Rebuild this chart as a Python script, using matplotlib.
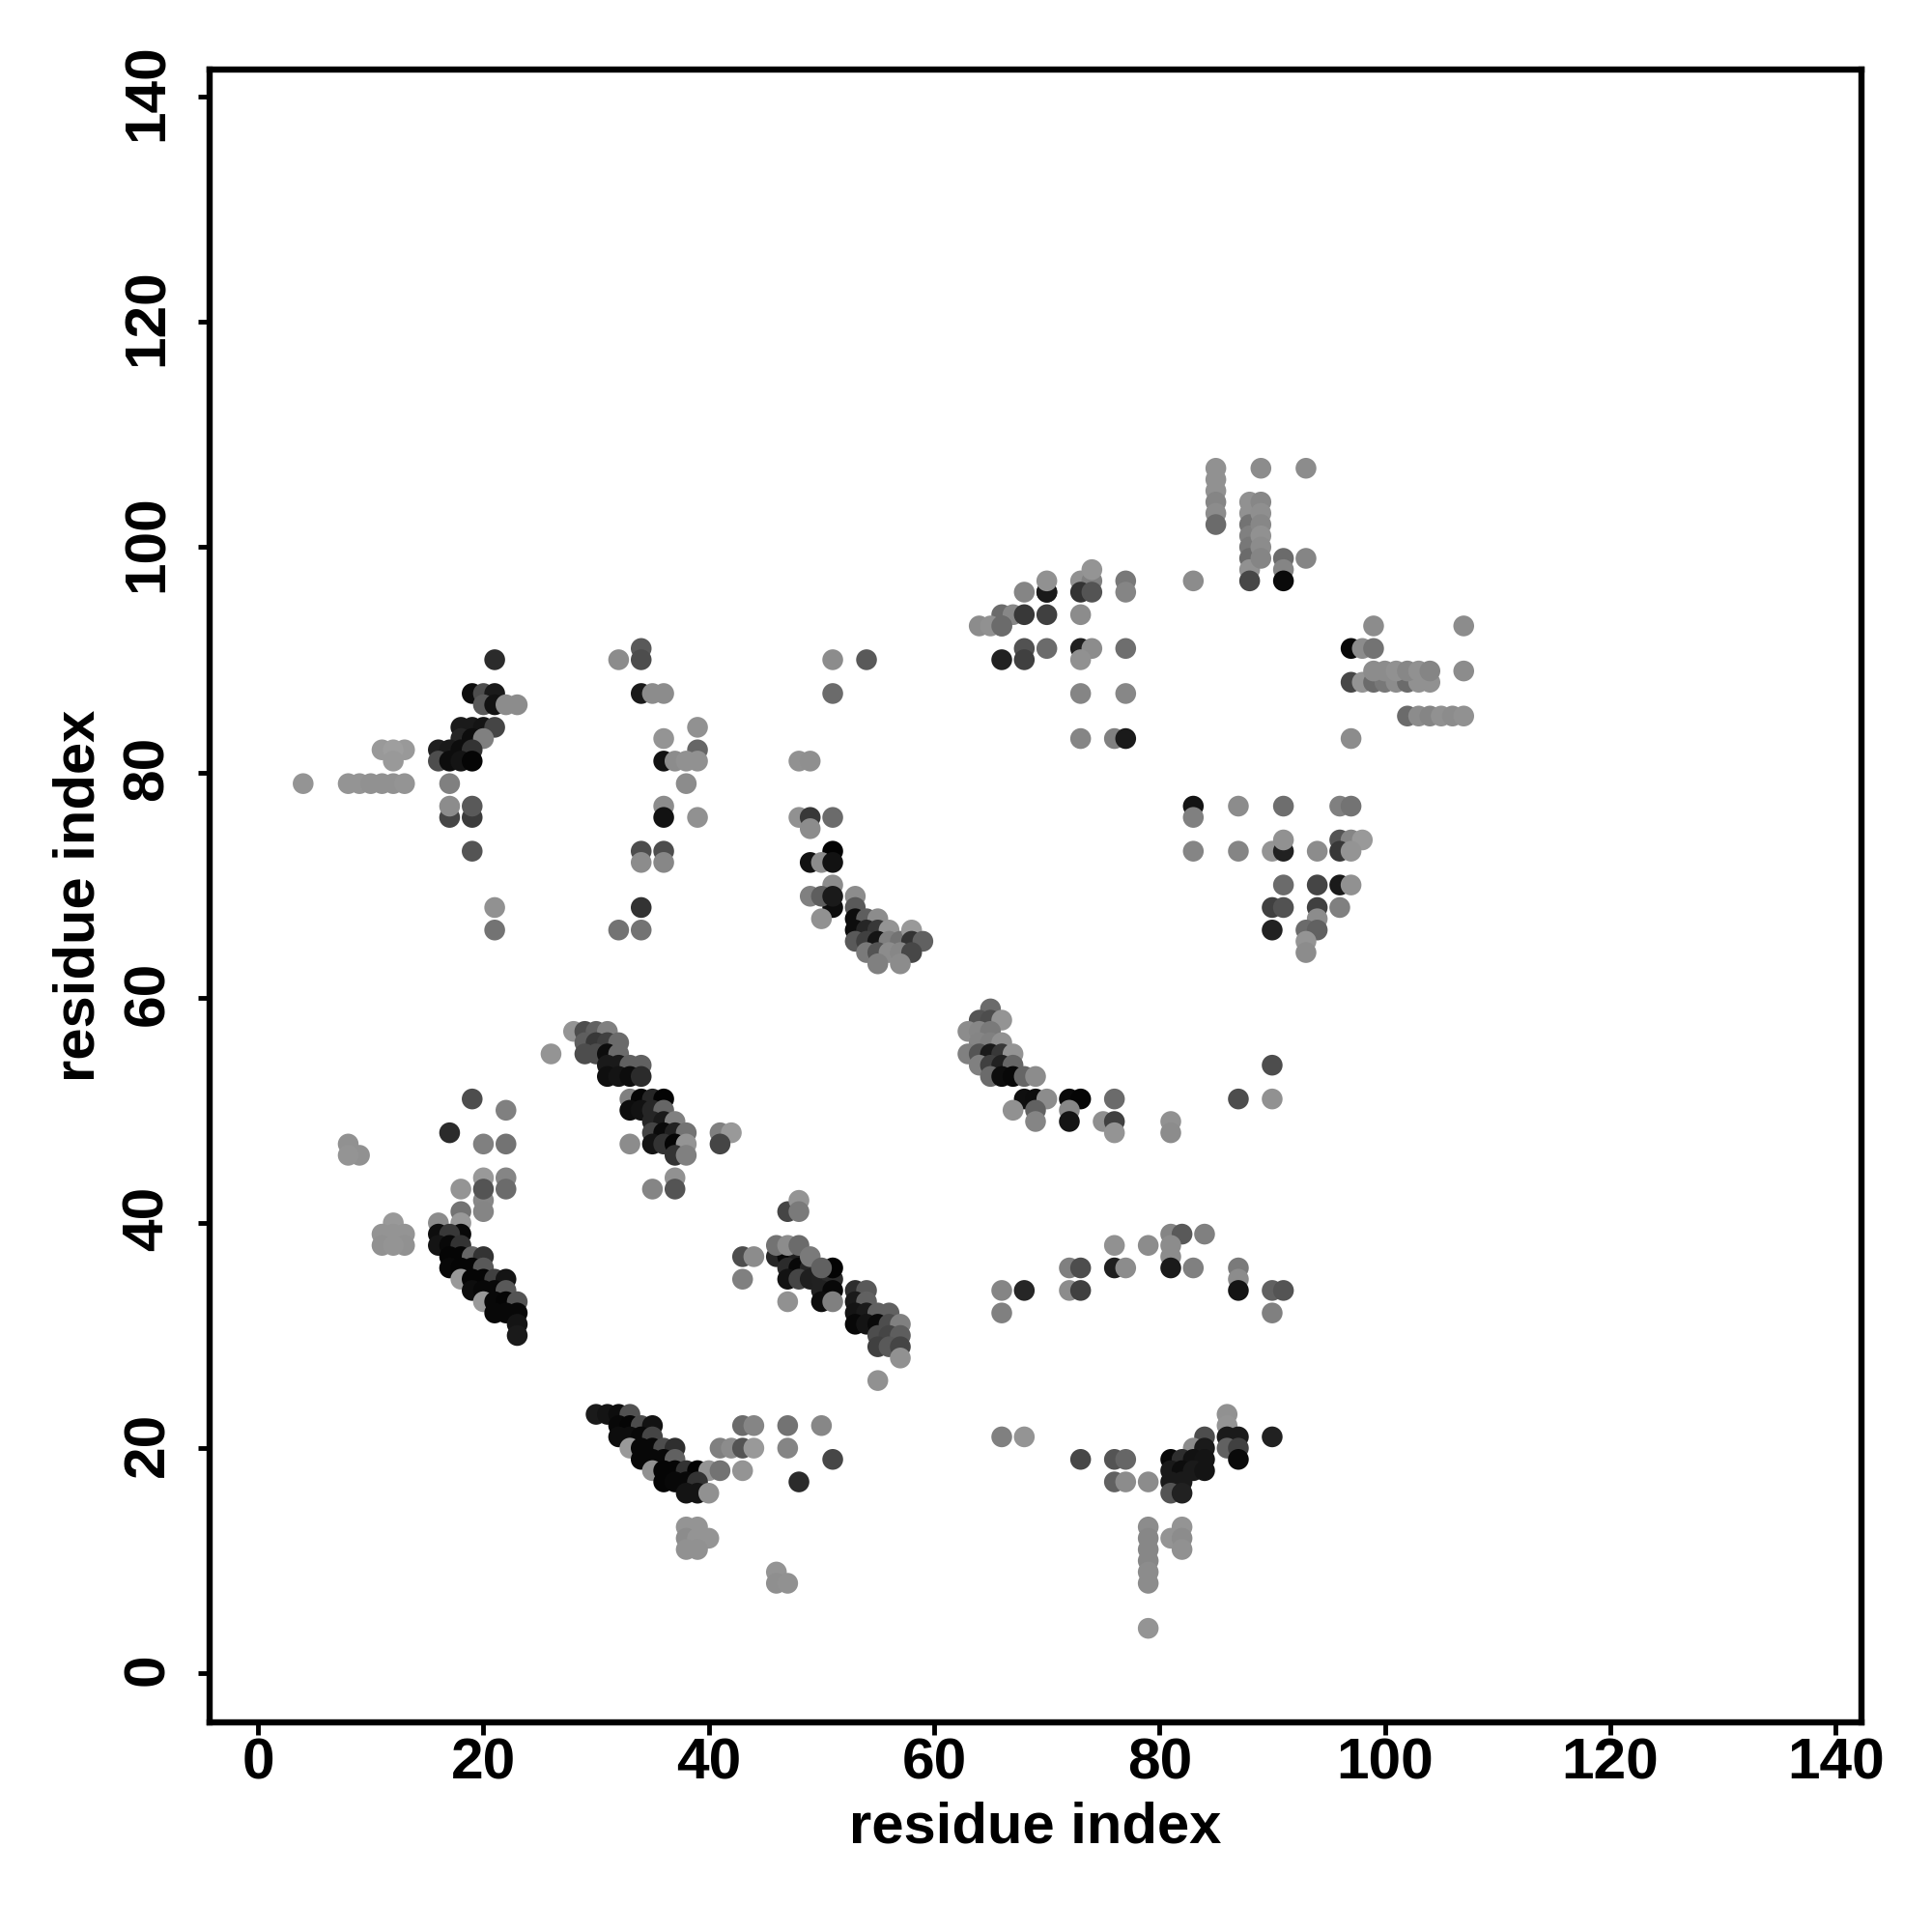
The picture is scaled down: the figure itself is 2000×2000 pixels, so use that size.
import numpy as np
import matplotlib
matplotlib.use("Agg")
import matplotlib.pyplot as plt
from matplotlib.transforms import ScaledTranslation

plt.rcParams['font.family'] = ['Liberation Sans', 'DejaVu Sans']

# contact map, x / y = residue index, shade = grey level of the dot
# upper left block
a_x = [21, 19, 20, 21, 20, 21, 22, 23, 18, 19, 20, 21, 18, 19, 20, 16, 17, 18, 19, 16, 17, 18, 19,
       11, 13, 12, 12, 4, 8, 9, 10, 11, 12, 13, 17, 17, 19, 17, 19, 19, 21, 21]
a_y = [90, 87, 87, 87, 86, 86, 86, 86, 84, 84, 84, 84, 83, 83, 83, 82, 82, 82, 82, 81, 81, 81, 81,
       82, 82, 82, 81, 79, 79, 79, 79, 79, 79, 79, 79, 76, 76, 77, 77, 73, 68, 66]
a_s = [.17, .05, .3, .1, .35, .07, .55, .55, .1, .1, .08, .27, .15, .05, .5, .12, .1, .05, .2, .3, .05, .08, .02,
       .6, .6, .62, .6, .58, .58, .58, .57, .57, .57, .58, .5, .27, .23, .55, .35, .33, .57, .45]

# lower left block
b_x = [19, 22, 17, 20, 22, 8, 9, 8, 20, 22, 20, 22, 18, 20, 20, 18, 18, 16,
       12, 11, 13, 12, 11, 13, 12, 16, 18, 17, 16, 17, 18, 17, 18, 19, 20, 17, 18, 19, 20,
       18, 19, 20, 21, 22, 19, 20, 21, 22, 20, 21, 22, 23, 21, 22, 23, 23, 23]
b_y = [51, 50, 48, 47, 47, 47, 46, 46, 44, 44, 42, 43, 43, 43, 41, 41, 40, 40,
       40, 39, 39, 39, 38, 38, 38, 39, 39, 39, 38, 38, 38, 37, 37, 37, 37, 36, 36, 36, 36,
       35, 35, 35, 35, 35, 34, 34, 34, 34, 33, 33, 33, 33, 32, 32, 32, 31, 30]
b_s = [.3, .5, .17, .5, .45, .57, .57, .58, .6, .52, .53, .42, .58, .33, .52, .45, .6, .55,
       .6, .58, .58, .58, .57, .57, .58, .05, .03, .22, .08, .03, .2, .02, .02, .4, .2, .03, .02, .02, .35,
       .6, .02, .02, .25, .08, .05, .03, .03, .35, .6, .03, .02, .33, .03, .03, .03, .08, .1]

# 30-40 / 45-57
c_x = [28, 29, 30, 31, 26, 29, 30, 31, 32, 29, 30, 31, 32, 31, 32, 33, 34, 31, 32, 33, 34,
       33, 34, 35, 36, 33, 34, 35, 36, 35, 36, 37, 35, 36, 37, 38, 33, 35, 36, 37, 38, 37, 38,
       41, 42, 41, 37, 37, 35]
c_y = [57, 57, 57, 57, 55, 56, 56, 56, 56, 55, 55, 55, 55, 54, 54, 54, 54, 53, 53, 53, 53,
       51, 51, 51, 51, 50, 50, 50, 50, 49, 49, 49, 48, 48, 48, 48, 47, 47, 47, 47, 47, 46, 46,
       48, 48, 47, 44, 43, 43]
c_s = [.58, .3, .38, .5, .58, .37, .22, .25, .42, .3, .3, .05, .42, .1, .1, .38, .38, .06, .08, .05, .17,
       .5, .02, .15, .01, .05, .07, .15, .4, .15, .1, .5, .27, .04, .13, .45, .55, .08, .2, .02, .58, .2, .5,
       .5, .6, .27, .57, .33, .52]

# bottom strand
d_x = [30, 31, 32, 33, 32, 33, 34, 35, 32, 33, 34, 35, 33, 34, 35, 36, 37, 34, 35, 36, 37,
       35, 36, 37, 38, 39, 40, 41, 36, 37, 38, 39, 38, 39, 40,
       38, 39, 38, 39, 40, 38, 39, 41, 42, 43, 44, 47, 43, 44, 47, 50, 43, 51, 48, 46, 46, 47]
d_y = [23, 23, 23, 23, 22, 22, 22, 22, 21, 21, 21, 21, 20, 20, 20, 20, 20, 19, 19, 19, 19,
       18, 18, 18, 18, 18, 18, 18, 17, 17, 17, 17, 16, 16, 16,
       13, 13, 12, 12, 12, 11, 11, 20, 20, 20, 20, 20, 22, 22, 22, 22, 18, 19, 17, 9, 8, 8]
d_s = [.1, .08, .05, .32, .03, .02, .3, .07, .05, .05, .03, .27, .6, .03, .03, .3, .18, .03, .03, .03, .38,
       .57, .02, .02, .2, .01, .58, .45, .02, .03, .03, .2, .08, .08, .57,
       .58, .58, .55, .58, .58, .57, .57, .5, .55, .33, .6, .52, .42, .52, .45, .53, .58, .28, .17, .58, .56, .57]

# 43-57 / 26-42
e_x = [47, 48, 48, 46, 47, 48, 46, 47, 48, 47, 48, 49, 49, 47, 48, 49, 50, 51, 50, 51, 50, 51,
       51, 50, 43, 44, 43, 47, 53, 54, 53, 54, 53, 54, 55, 56, 53, 54, 55, 56, 57,
       55, 56, 57, 55, 56, 57, 57, 55]
e_y = [41, 42, 41, 37, 37, 37, 38, 38, 38, 36, 36, 36, 37, 35, 35, 35, 35, 35, 34, 34, 33, 36,
       33, 36, 37, 37, 35, 33, 34, 34, 33, 33, 32, 32, 32, 32, 31, 31, 31, 31, 31,
       30, 30, 30, 29, 29, 29, 28, 26]
e_s = [.27, .58, .48, .15, .03, .12, .45, .55, .42, .17, .03, .15, .48, .07, .27, .12, .13, .17, .13, .03, .05, .01,
       .5, .38, .3, .55, .5, .57, .18, .35, .1, .38, .08, .1, .38, .38, .03, .08, .04, .3, .5,
       .3, .27, .37, .25, .35, .27, .57, .57]

# 48-59 / 63-81
f_x = [48, 49, 48, 49, 51, 49, 51, 49, 50, 51, 51, 51, 49, 50, 51, 50, 53, 53, 53, 54, 55,
       53, 54, 55, 56, 53, 54, 55, 56, 57, 58, 58, 59, 54, 55, 56, 57, 58, 55, 57, 51, 54, 51]
f_y = [81, 81, 76, 76, 76, 75, 73, 72, 72, 72, 70, 68, 69, 69, 69, 67, 69, 68, 67, 67, 67,
       66, 66, 66, 66, 65, 65, 65, 65, 65, 66, 65, 65, 64, 64, 64, 64, 64, 63, 63, 90, 90, 87]
f_s = [.57, .56, .57, .22, .42, .55, .01, .07, .55, .07, .55, .05, .5, .37, .1, .57, .55, .35, .05, .37, .55,
       .05, .15, .22, .58, .35, .25, .08, .5, .45, .6, .2, .38, .48, .33, .55, .53, .28, .5, .55, .55, .35, .42]

# 63-76 / 48-59
g_x = [65, 64, 65, 66, 63, 64, 65, 64, 65, 66, 63, 64, 65, 66, 67, 64, 65, 66, 67, 65, 66, 67, 68, 69,
       68, 69, 70, 72, 73, 76, 67, 69, 72, 69, 72, 75, 76, 76]
g_y = [59, 58, 58, 58, 57, 57, 57, 56, 56, 56, 55, 55, 55, 55, 55, 54, 54, 54, 54, 53, 53, 53, 53, 53,
       51, 51, 51, 51, 51, 51, 50, 50, 50, 49, 49, 49, 49, 48]
g_s = [.42, .33, .3, .58, .55, .53, .48, .52, .5, .57, .5, .33, .1, .22, .58, .5, .25, .13, .4, .42, .05, .03, .4, .55,
       .06, .05, .55, .04, .02, .42, .57, .38, .53, .52, .08, .56, .25, .58]

# 76-91 / 4-23
h_x = [86, 86, 84, 86, 87, 90, 83, 84, 86, 87, 81, 82, 83, 84, 87, 81, 82, 83, 84, 81, 82, 81, 82,
       79, 82, 79, 81, 82, 79, 82, 79, 79, 79, 79, 76, 77, 76, 77, 73, 79, 66, 68]
h_y = [23, 22, 21, 21, 21, 21, 20, 20, 20, 20, 19, 19, 19, 19, 19, 18, 18, 18, 18, 17, 17, 16, 16,
       13, 13, 12, 12, 12, 11, 11, 10, 9, 8, 4, 19, 19, 17, 17, 19, 17, 21, 21]
h_s = [.57, .58, .3, .1, .1, .13, .55, .1, .38, .25, .03, .18, .07, .08, .04, .1, .05, .1, .08, .1, .1, .33, .13,
       .55, .58, .53, .58, .55, .53, .57, .53, .55, .55, .58, .33, .4, .38, .55, .28, .55, .5, .58]

# 66-91 / 32-54, scattered ones
i_x = [66, 68, 66, 72, 73, 72, 73, 76, 77, 76, 81, 82, 84, 81, 81, 81, 83, 79, 87, 87, 87, 90, 91, 90,
       90, 90, 87, 81, 81]
i_y = [34, 34, 32, 36, 36, 34, 34, 36, 36, 38, 39, 39, 39, 38, 37, 36, 36, 38, 36, 35, 34, 34, 34, 32,
       54, 51, 51, 49, 48]
i_s = [.52, .15, .5, .5, .3, .55, .25, .12, .55, .57, .52, .35, .5, .55, .55, .1, .5, .55, .48, .55, .08, .38, .33, .5,
       .3, .57, .3, .57, .55]

# 32-39 / 66-91
j_x = [32, 34, 34, 34, 35, 36, 36, 39, 39, 36, 37, 38, 39, 38, 36, 36, 39, 34, 36, 34, 36, 34, 32, 34]
j_y = [90, 91, 90, 87, 87, 87, 83, 84, 82, 81, 81, 81, 81, 79, 77, 76, 76, 73, 73, 72, 72, 68, 66, 66]
j_s = [.55, .35, .3, .1, .55, .55, .58, .57, .4, .07, .55, .57, .57, .55, .55, .07, .57, .3, .3, .55, .53, .2, .45, .45]

# top strands
k_x = [85, 85, 85, 85, 85, 85, 89, 93, 88, 88, 88, 88, 88, 88, 88, 88, 89, 89, 89, 89, 89, 89, 91, 91, 91, 93, 83]
k_y = [107, 106, 105, 104, 103, 102, 107, 107, 104, 103, 102, 101, 100, 99, 98, 97, 104, 103, 102, 101, 100, 99, 99, 98, 97, 99, 97]
k_s = [.57, .57, .57, .52, .55, .42, .55, .55, .57, .57, .45, .5, .47, .42, .57, .28, .53, .56, .53, .57, .55, .52, .42, .52, .04, .52, .55]

l_x = [99, 107, 97, 98, 99, 97, 98, 99, 100, 101, 102, 103, 104, 99, 100, 101, 102, 103, 104, 107,
       102, 103, 104, 105, 106, 107, 97]
l_y = [93, 93, 91, 91, 91, 88, 88, 88, 88, 88, 88, 88, 88, 89, 89, 89, 89, 89, 89, 89,
       85, 85, 85, 85, 85, 85, 83]
l_s = [.55, .55, .03, .55, .45, .28, .58, .42, .47, .55, .42, .57, .57, .55, .55, .57, .53, .57, .52, .55,
       .42, .55, .52, .57, .55, .57, .55]

m_x = [83, 83, 87, 91, 96, 97, 83, 87, 90, 91, 91, 94, 96, 97, 98, 96, 97, 91, 94, 96, 97,
       90, 91, 94, 96, 94, 90, 93, 94, 93, 93]
m_y = [77, 76, 77, 77, 77, 77, 73, 73, 73, 73, 74, 73, 74, 74, 74, 73, 73, 70, 70, 70, 70,
       68, 68, 68, 68, 67, 66, 66, 66, 65, 64]
m_s = [.08, .5, .55, .43, .5, .45, .52, .52, .58, .13, .57, .55, .33, .52, .6, .22, .58, .42, .27, .1, .57,
       .25, .32, .25, .5, .55, .13, .42, .38, .58, .55]

n_x = [73, 74, 74, 70, 77, 68, 70, 73, 74, 77, 70, 66, 67, 66, 68, 70, 73, 64, 65, 66,
       68, 70, 73, 74, 77, 66, 68, 73, 73, 77, 73, 76, 77]
n_y = [97, 97, 98, 96, 97, 96, 96, 96, 96, 96, 97, 94, 94, 93, 94, 94, 94, 93, 93, 93,
       91, 91, 91, 91, 91, 90, 90, 90, 87, 87, 83, 83, 83]
n_s = [.57, .5, .58, .1, .47, .52, .1, .2, .33, .52, .57, .42, .53, .42, .22, .25, .55, .55, .57, .42,
       .32, .42, .12, .55, .43, .13, .25, .57, .52, .53, .52, .5, .1]

x_ticks = [0, 20, 40, 60, 80, 100, 120, 140]
y_ticks = [0, 20, 40, 60, 80, 100, 120, 140]

x = np.array(a_x + b_x + c_x + d_x + e_x + f_x + g_x + h_x + i_x + j_x + k_x + l_x + m_x + n_x)
y = np.array(a_y + b_y + c_y + d_y + e_y + f_y + g_y + h_y + i_y + j_y + k_y + l_y + m_y + n_y)
shade = np.array(a_s + b_s + c_s + d_s + e_s + f_s + g_s + h_s + i_s + j_s + k_s + l_s + m_s + n_s)

fig = plt.figure(figsize=(20, 20), dpi=100)
ax = fig.add_axes([217 / 2000, 1 - 1783 / 2000, 1710 / 2000, 1711 / 2000])
ax.scatter(x, y, s=240, c=shade.astype(str), linewidths=0, zorder=3)

ax.set_xlim(-4.3, 142.3)
ax.set_ylim(-4.35, 142.4)
ax.set_xticks(x_ticks)
ax.set_yticks(y_ticks)
ax.tick_params(axis='x', length=9, width=3.5, labelsize=43.5, pad=2)
ax.tick_params(axis='y', length=9, width=3.5, labelsize=43.5, pad=17)
up = ScaledTranslation(0, 3 / 72, fig.dpi_scale_trans)
for lab in ax.get_xticklabels() + ax.get_yticklabels():
    lab.set_fontweight('bold')
for lab in ax.get_yticklabels():
    lab.set_rotation(90)
    lab.set_va('center')
    lab.set_transform(lab.get_transform() + up)
for sp in ax.spines.values():
    sp.set_linewidth(4.6)
ax.set_xlabel("residue index", fontsize=43, fontweight='bold', labelpad=8)
ax.set_ylabel("residue index", fontsize=43, fontweight='bold', labelpad=12)

fig.savefig("out.png", dpi=100)
